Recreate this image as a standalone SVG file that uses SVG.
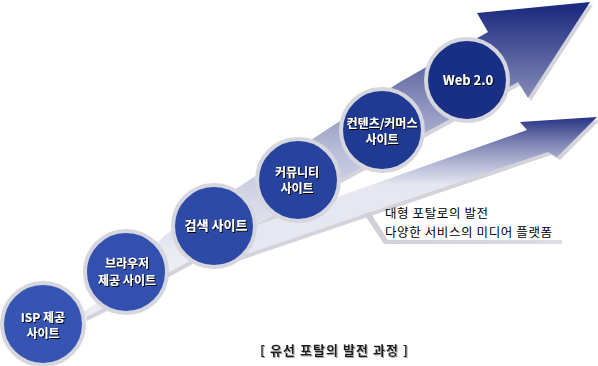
<svg xmlns="http://www.w3.org/2000/svg" width="598" height="366" viewBox="0 0 598 366">
<defs>
<linearGradient id="gMain" gradientUnits="userSpaceOnUse" x1="0" y1="260" x2="0" y2="8">
<stop offset="0" stop-color="#ececf3"/>
<stop offset="0.22" stop-color="#d8dae9"/>
<stop offset="0.44" stop-color="#b8bcd7"/>
<stop offset="0.66" stop-color="#8087b6"/>
<stop offset="1" stop-color="#1e2c80"/>
</linearGradient>
<linearGradient id="gSub" gradientUnits="userSpaceOnUse" x1="0" y1="185" x2="0" y2="115">
<stop offset="0" stop-color="#e6e7f1"/>
<stop offset="0.3" stop-color="#b4b8d5"/>
<stop offset="0.6" stop-color="#7d84b4"/>
<stop offset="1" stop-color="#1e2c80"/>
</linearGradient>
<linearGradient id="gCall" x1="0" y1="0" x2="1" y2="0">
<stop offset="0" stop-color="#cfcfd8"/>
<stop offset="1" stop-color="#dcdce3"/>
</linearGradient>
<filter id="dsBlack" x="-10%" y="-20%" width="130%" height="150%">
<feDropShadow dx="1" dy="1" stdDeviation="0" flood-color="#000" flood-opacity="1"/>
</filter>
<filter id="dsGray" x="-10%" y="-20%" width="130%" height="150%">
<feDropShadow dx="1" dy="1" stdDeviation="0" flood-color="#a8a8a8" flood-opacity="1"/>
</filter>
</defs>
<style>
.shadow { fill: #d3d3db; }
.ring { fill: none; stroke: #d6d6de; stroke-width: 4; }
.nt { font-family: "Noto Sans CJK KR", "Liberation Sans", sans-serif; font-size: 13px; font-weight: bold; text-anchor: middle; fill: #fff; filter: url(#dsBlack); }
.nt2 { font-size: 12px; }
.ct { font-family: "Noto Sans CJK KR", "Liberation Sans", sans-serif; font-size: 12.5px; fill: #000; }
.cap { font-family: "Noto Sans CJK KR", "Liberation Sans", sans-serif; font-size: 13px; font-weight: bold; fill: #1a1a1a; filter: url(#dsGray); }
</style>
<rect width="598" height="366" fill="#fff"/>
<g id="connectors">
<path class="shadow" transform="translate(3,3)" d="M215,240 L527,130 L520,122 L597,117 L557,157 L548,152 L235,258 Z"/>
<path class="shadow" transform="translate(3,3)" d="M82,312 L100,301 L165,235 L400,82 L488,32 L477,13 L590,2 L528,98 L518,82 L100,310 L84,318 Z"/>
<path fill="url(#gMain)" d="M82,312 L100,301 L165,235 L400,82 L488,32 L477,13 L590,2 L528,98 L518,82 L100,310 L84,318 Z"/>
<path fill="url(#gSub)" d="M215,240 L527,130 L520,122 L597,117 L557,157 L548,152 L235,258 Z"/>
<path fill="url(#gCall)" d="M364,214 L370,212 L388,240 L562,240 L562,244 L384,244 Z"/>
</g>
<g id="node-isp">
<circle cx="43" cy="324" r="41" fill="#3654b2"/>
<circle cx="43" cy="324" r="41" class="ring"/>
<text class="nt nt2" x="43" y="321.5">ISP 제공</text>
<text class="nt nt2" x="43" y="337.5">사이트</text>
</g>
<g id="node-browser">
<circle cx="126" cy="272" r="41" fill="#3250ad"/>
<circle cx="126" cy="272" r="41" class="ring"/>
<text class="nt nt2" x="127" y="268">브라우저</text>
<text class="nt nt2" x="127" y="285">제공 사이트</text>
</g>
<g id="node-search">
<circle cx="214" cy="226" r="41" fill="#2d4aa6"/>
<circle cx="214" cy="226" r="41" class="ring"/>
<text class="nt" x="216" y="230">검색 사이트</text>
</g>
<g id="node-community">
<circle cx="298" cy="180" r="41" fill="#27439e"/>
<circle cx="298" cy="180" r="41" class="ring"/>
<text class="nt nt2" x="297" y="176.5">커뮤니티</text>
<text class="nt nt2" x="297" y="192.5">사이트</text>
</g>
<g id="node-contents">
<circle cx="382" cy="130" r="41" fill="#203a94"/>
<circle cx="382" cy="130" r="41" class="ring"/>
<text class="nt nt2" x="382" y="127.5">컨텐츠/커머스</text>
<text class="nt nt2" x="382" y="143.5">사이트</text>
</g>
<g id="node-web20">
<circle cx="467" cy="80" r="41" fill="#182f85"/>
<circle cx="467" cy="80" r="41" class="ring"/>
<text class="nt" x="468" y="85">Web 2.0</text>
</g>
<g id="callout">
<text class="ct" x="385" y="218" textLength="103" lengthAdjust="spacing">대형 포탈로의 발전</text>
<text class="ct" x="385" y="237" textLength="167" lengthAdjust="spacing">다양한 서비스의 미디어 플랫폼</text>
</g>
<g id="caption">
<text class="cap" x="260" y="355" textLength="148" lengthAdjust="spacing">[ 유선 포탈의 발전 과정 ]</text>
</g>
</svg>
